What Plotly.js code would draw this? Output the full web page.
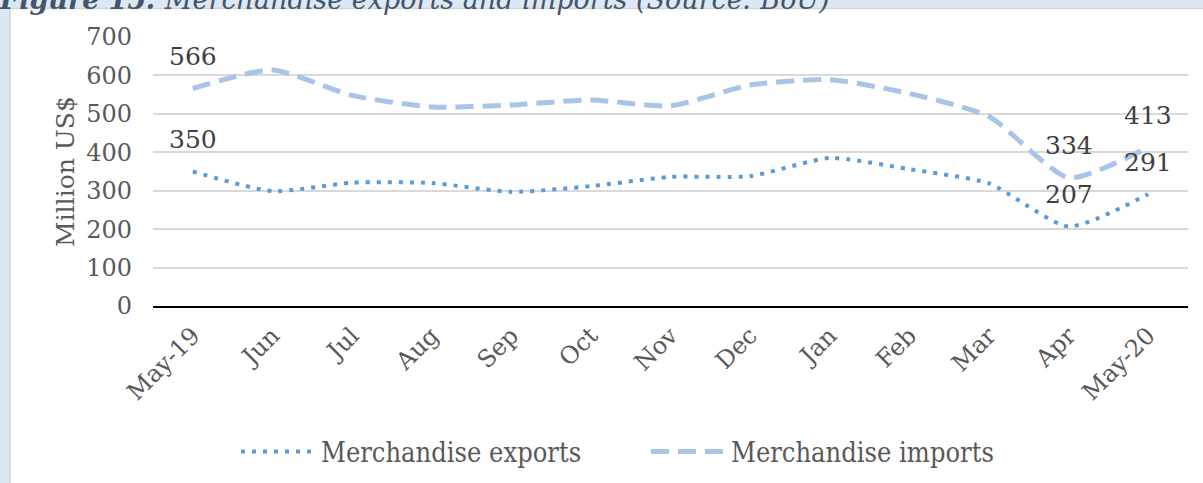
<!DOCTYPE html>
<html>
<head>
<meta charset="utf-8">
<script src="https://cdn.plot.ly/plotly-3.0.1.min.js"></script>
<style>html,body{margin:0;padding:0;background:#dde8f5;}#chart{width:1203px;height:483px;}</style>
</head>
<body>
<div id="chart"></div>
<script>
const months = ["May-19","Jun","Jul","Aug","Sep","Oct","Nov","Dec","Jan","Feb","Mar","Apr","May-20"];
const exportsVals = [350, 299, 321, 320, 297, 312, 336, 338, 385, 356, 319, 207, 291];
const importsVals = [566, 614, 548, 518, 523, 536, 521, 575, 589, 553, 493, 334, 413];
const labelIdx = [0, 11, 12];
const yTicks = [0, 100, 200, 300, 400, 500, 600, 700];

const W = 1203, H = 483;
const m = {l: 153, r: 15, t: 37, b: 177};
const pw = W - m.l - m.r, ph = H - m.t - m.b;
const px = v => (v - m.l) / pw;
const py = v => 1 - (v - m.t) / ph;

const serif = "DejaVu Serif";
const txt = "#595959";

const traces = [
  {x: months, y: exportsVals, type: "scatter", mode: "lines", name: "Merchandise exports",
   line: {color: "#5b9bd5", width: 4, dash: "4px,7px", shape: "spline", smoothing: 0.6}},
  {x: months, y: importsVals, type: "scatter", mode: "lines", name: "Merchandise imports",
   line: {color: "#a9c4e7", width: 5, dash: "18px,9px", shape: "spline", smoothing: 0.6}}
];

const annotations = [];
labelIdx.forEach(i => {
  [exportsVals, importsVals].forEach(arr => {
    annotations.push({x: months[i], y: arr[i], xref: "x", yref: "y", text: String(arr[i]),
      showarrow: false, yshift: 32, font: {family: serif, size: 25, color: "#404040"}});
  });
});

const layout = {
  width: W, height: H,
  margin: Object.assign({autoexpand: false}, m),
  paper_bgcolor: "#dde8f5",
  plot_bgcolor: "#ffffff",
  showlegend: true,
  title: {text: "<b>Figure 15:</b> Merchandise exports and imports (Source: BoU)",
    xref: "container", yref: "container", x: 0, xanchor: "left", y: 1.0, yanchor: "middle",
    font: {family: "DejaVu Serif", size: 27, color: "#44546a", style: "italic"}},
  xaxis: {type: "category", range: [-0.5, 12.5], tickangle: -45, showgrid: false,
    showline: true, linecolor: "#000000", linewidth: 2, ticks: "", ticklabelstandoff: 4,
    tickfont: {family: serif, size: 24, color: txt}, fixedrange: true, automargin: false},
  yaxis: {range: [0, 700], tickvals: yTicks, ticktext: yTicks.map(String), showgrid: true,
    gridcolor: "#d9d9d9", gridwidth: 2, zeroline: false, showline: false, ticks: "",
    ticklabelstandoff: 20, tickfont: {family: serif, size: 24, color: txt}, automargin: false,
    title: {text: "Million US$", font: {family: serif, size: 25, color: txt}, standoff: 4}},
  legend: {orientation: "h", x: px(236), xanchor: "left", y: py(452), yanchor: "middle",
    font: {family: "DejaVu Serif Condensed, DejaVu Serif", size: 27, color: txt},
    itemwidth: 75, entrywidth: 320, entrywidthmode: "pixels", bgcolor: "rgba(0,0,0,0)"},
  shapes: [{type: "rect", xref: "paper", yref: "paper", layer: "below",
    x0: px(10), x1: px(1210), y0: py(490), y1: py(8.5),
    fillcolor: "#ffffff", line: {color: "#d6d6d6", width: 1.5}}],
  annotations: annotations
};

Plotly.newPlot("chart", traces, layout, {displayModeBar: false, staticPlot: true});
</script>
</body>
</html>
